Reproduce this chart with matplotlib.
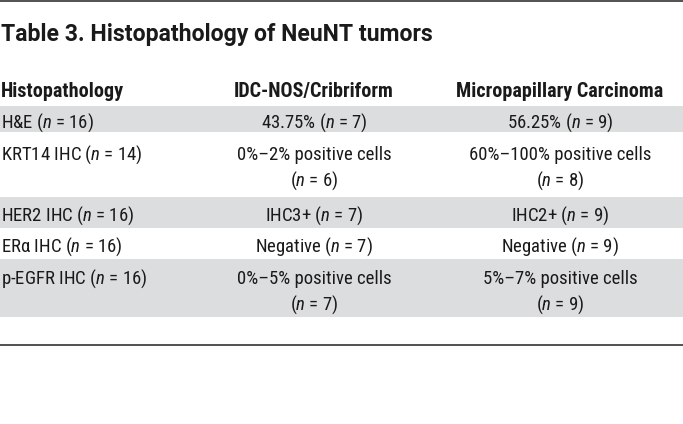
import matplotlib
matplotlib.use("Agg")
import matplotlib.pyplot as plt
from matplotlib import font_manager

# table content
title = "Table 3. Histopathology of NeuNT tumors"
headers = ["Histopathology", "IDC-NOS/Cribriform", "Micropapillary Carcinoma"]
row_labels = [
    "H&E ($\\mathit{n}$ = 16)",
    "KRT14 IHC ($\\mathit{n}$ = 14)",
    "HER2 IHC ($\\mathit{n}$ = 16)",
    "ERα IHC ($\\mathit{n}$ = 16)",
    "p-EGFR IHC ($\\mathit{n}$ = 16)",
]
idc_values = [
    ["43.75% ($\\mathit{n}$ = 7)"],
    ["0%–2% positive cells", "($\\mathit{n}$ = 6)"],
    ["IHC3+ ($\\mathit{n}$ = 7)"],
    ["Negative ($\\mathit{n}$ = 7)"],
    ["0%–5% positive cells", "($\\mathit{n}$ = 7)"],
]
micro_values = [
    ["56.25% ($\\mathit{n}$ = 9)"],
    ["60%–100% positive cells", "($\\mathit{n}$ = 8)"],
    ["IHC2+ ($\\mathit{n}$ = 9)"],
    ["Negative ($\\mathit{n}$ = 9)"],
    ["5%–7% positive cells", "($\\mathit{n}$ = 9)"],
]

# pick a narrow font if there is one
available = {f.name for f in font_manager.fontManager.ttflist}
narrow = [n for n in ["Roboto Condensed", "Liberation Sans Narrow"] if n in available]
main_font = narrow[0] if narrow else "DejaVu Sans"
title_font = "Roboto" if "Roboto" in available else main_font
plt.rcParams["font.family"] = [main_font, "DejaVu Sans"]
plt.rcParams["font.stretch"] = "condensed"
plt.rcParams["mathtext.fontset"] = "custom"
plt.rcParams["mathtext.rm"] = main_font
plt.rcParams["mathtext.it"] = main_font + ":italic"

W, H = 683, 424
fig = plt.figure(figsize=(W / 100, H / 100), dpi=100)
ax = fig.add_axes([0, 0, 1, 1])
ax.set_xlim(0, W)
ax.set_ylim(H, 0)
ax.axis("off")

txt = "#1a1a1a"
fs = 13.5
col_x = [1, 314, 560]
row_bounds = [106, 132, 197, 228, 259, 317]
line_gap = 26

ax.axhline(1, color="#333333", lw=1.2)
ax.axhline(345, color="#333333", lw=1.2)

ax.text(1, 41, title, fontsize=16.6, fontweight="bold", family=[title_font, "DejaVu Sans"],
        stretch="normal", color=txt, va="baseline", ha="left")
for k, (hx, ha) in enumerate(zip(col_x, ["left", "center", "center"])):
    ax.text(hx, 97, headers[k], fontsize=14.5, fontweight="bold", color=txt, va="baseline", ha=ha)

for i, label in enumerate(row_labels):
    top, bot = row_bounds[i], row_bounds[i + 1]
    if i % 2 == 0:
        ax.axhspan(top, bot, color="#dcdddf", lw=0)
    n_lines = max(len(idc_values[i]), len(micro_values[i]))
    y0 = (top + bot) / 2 + 8.5 - (n_lines - 1) * line_gap / 2
    ax.text(col_x[0], y0, label, fontsize=fs, color=txt, va="baseline", ha="left")
    for j, line in enumerate(idc_values[i]):
        ax.text(col_x[1], y0 + j * line_gap, line, fontsize=fs, color=txt, va="baseline", ha="center")
    for j, line in enumerate(micro_values[i]):
        ax.text(col_x[2], y0 + j * line_gap, line, fontsize=fs, color=txt, va="baseline", ha="center")

fig.savefig("out.png", dpi=100)
